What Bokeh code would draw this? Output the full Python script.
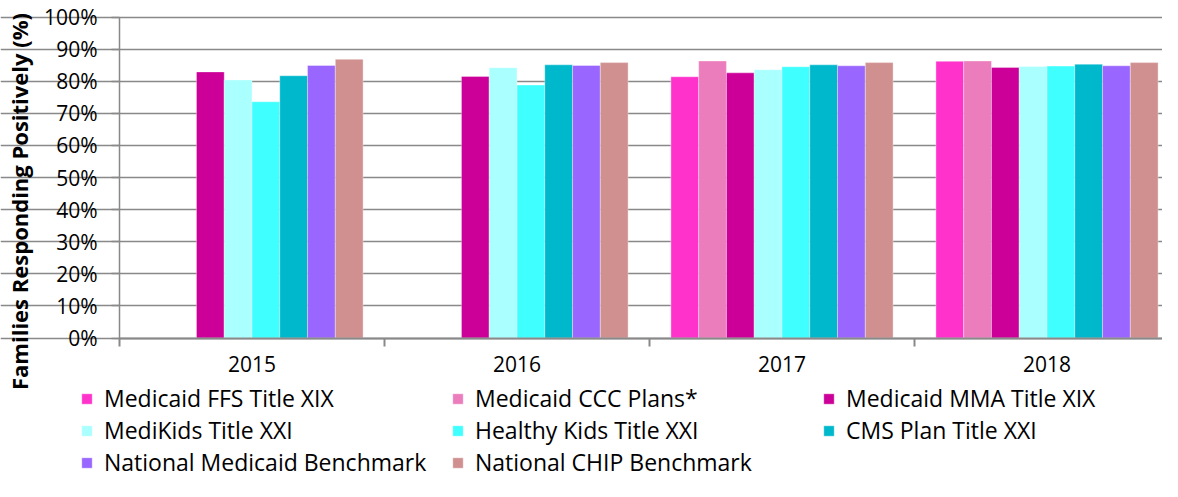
import math
from bokeh.plotting import figure
from bokeh.models import (ColumnDataSource, FixedTicker, CustomJSTickFormatter,
                          PrintfTickFormatter, Legend, LegendItem, Label, Range1d)
from bokeh.transform import dodge
from bokeh.embed import file_html
from bokeh.resources import INLINE

nan = float("nan")

years = ["2015", "2016", "2017", "2018"]
series_names = [
    "Medicaid FFS Title XIX",
    "Medicaid CCC Plans*",
    "Medicaid MMA Title XIX",
    "MediKids Title XXI",
    "Healthy Kids Title XXI",
    "CMS Plan Title XXI",
    "National Medicaid Benchmark",
    "National CHIP Benchmark",
]
medicaid_ffs = [nan, nan, 81.4, 86.2]
medicaid_ccc = [nan, nan, 86.3, 86.3]
medicaid_mma = [82.9, 81.5, 82.6, 84.3]
medikids = [80.4, 84.2, 83.6, 84.6]
healthy_kids = [73.6, 78.8, 84.5, 84.7]
cms_plan = [81.7, 85.1, 85.1, 85.3]
national_medicaid = [84.9, 84.9, 84.8, 84.8]
national_chip = [86.8, 85.8, 85.8, 85.8]

colors = ["#FF33CC", "#EC7DBD", "#CC0099", "#AAFFFF",
          "#3FFFFF", "#00B8CC", "#9966FF", "#D09090"]

values = [medicaid_ffs, medicaid_ccc, medicaid_mma, medikids,
          healthy_kids, cms_plan, national_medicaid, national_chip]

keys = ["s%d" % i for i in range(len(series_names))]
data = {"x": [i + 0.5 for i in range(len(years))]}
for k, v in zip(keys, values):
    data[k] = v
src = ColumnDataSource(data)

FONT = "Open Sans"
GRID = "#898989"

W, H = 1162, 481
# frame covers the whole canvas; the plot area sits inside it
PX_X = 265.0          # pixels per category
X0 = 119.0            # pixel of first category boundary
PX_Y = 3.21           # pixels per percent
Y0 = 337.5            # pixel of 0 %

p = figure(width=W, height=H, output_backend="svg", toolbar_location=None,
           x_range=Range1d(-X0 / PX_X, (W - X0) / PX_X),
           y_range=Range1d(-(H - Y0) / PX_Y, Y0 / PX_Y),
           min_border_left=0, min_border_right=0, min_border_top=0,
           min_border_bottom=0)
p.outline_line_color = None
p.background_fill_color = "white"
p.border_fill_color = "white"

n = len(series_names)
w = 0.1048
items = []
for j, (k, name, c) in enumerate(zip(keys, series_names, colors)):
    r = p.vbar(x=dodge("x", (j - (n - 1) / 2) * w), top=k, width=w, source=src,
               fill_color=c, line_color="white", line_alpha=0.35, line_width=1)
    items.append(LegendItem(label=name, renderers=[r]))

# legend fills column by column: reorder so it reads row by row
ncols = 3
nrows = math.ceil(n / ncols)
order = [r * ncols + c for c in range(ncols) for r in range(nrows) if r * ncols + c < n]
items = [items[i] for i in order]

# y axis
yticks = list(range(0, 101, 10))
p.yaxis.fixed_location = 0
p.yaxis.bounds = (0, 100)
p.yaxis.ticker = FixedTicker(ticks=yticks)
p.yaxis.formatter = PrintfTickFormatter(format="%d%%")
p.yaxis.major_tick_out = 8
p.yaxis.major_tick_in = 0
p.yaxis.minor_tick_line_color = None
p.yaxis.axis_line_color = GRID
p.yaxis.axis_line_width = 1.5
p.yaxis.major_tick_line_color = GRID
p.yaxis.major_tick_line_width = 1.5
p.yaxis.major_label_text_font = FONT
p.yaxis.major_label_text_font_size = "21px"
p.yaxis.major_label_text_color = "black"
p.yaxis.major_label_standoff = 14

# x axis
p.xaxis.fixed_location = 0
p.xaxis.bounds = (0, len(years))
p.xaxis.ticker = FixedTicker(ticks=data["x"], minor_ticks=list(range(len(years) + 1)))
p.xaxis.formatter = CustomJSTickFormatter(args=dict(years=years),
                                          code="return years[Math.floor(tick)];")
p.xaxis.major_tick_out = 0
p.xaxis.major_tick_in = 0
p.xaxis.minor_tick_out = 8
p.xaxis.minor_tick_in = 0
p.xaxis.minor_tick_line_color = GRID
p.xaxis.minor_tick_line_width = 2
p.xaxis.axis_line_color = GRID
p.xaxis.axis_line_width = 2
p.xaxis.major_label_text_font = FONT
p.xaxis.major_label_text_font_size = "21px"
p.xaxis.major_label_text_color = "black"
p.xaxis.major_label_standoff = 10

p.xgrid.visible = False
p.ygrid.ticker = FixedTicker(ticks=yticks)
p.ygrid.grid_line_color = GRID
p.ygrid.grid_line_width = 1.5
p.ygrid.bounds = (0, len(years))

# y axis title
p.add_layout(Label(x=(18 - X0) / PX_X, y=(Y0 - 201) / PX_Y,
                   text="Families Responding Positively (%)",
                   angle=math.pi / 2, text_align="center", text_baseline="middle",
                   text_font=FONT, text_font_style="bold", text_font_size="22px",
                   text_color="black"))

legend = Legend(items=items, ncols=ncols, location=(80, 3),
                glyph_width=13, glyph_height=13, label_standoff=11,
                label_width=347, label_height=28, spacing=0,
                padding=0, margin=0, border_line_color=None,
                background_fill_alpha=0,
                label_text_font=FONT, label_text_font_size="23px",
                label_text_color="black")
p.add_layout(legend, "center")

open("out.html", "w").write(file_html(p, INLINE))
